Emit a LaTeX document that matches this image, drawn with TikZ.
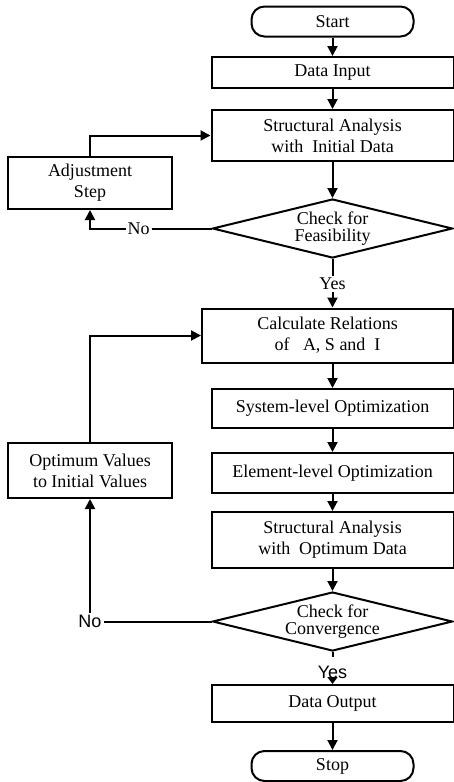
\documentclass[tikz,border=0pt]{standalone}
\usepackage{fontspec}
\setmainfont{Liberation Serif}
\newfontfamily\labelsans{Liberation Sans}
\usetikzlibrary{shapes.geometric,arrows.meta}

\tikzset{
    box/.style={draw, line width=1pt, align=center, inner sep=1pt,
        minimum width=121pt, font=\fontsize{9}{10.5}\selectfont},
    term/.style={box, rounded corners=6.5pt, minimum width=81pt, minimum height=15pt},
    test/.style={draw, diamond, aspect=4, line width=1pt, inner sep=0pt,
        minimum width=120pt, minimum height=29.5pt, align=center,
        font=\fontsize{9}{8.5}\selectfont},
    answer/.style={inner sep=1pt, font=\fontsize{9}{10}\selectfont},
    flow/.style={line width=1pt, -{Triangle[length=5pt,width=5pt]}},
    link/.style={line width=1pt}
}

\begin{document}
\begin{tikzpicture}[x=0.5pt, y=-0.5pt]
        \useasboundingbox (0, 0) rectangle (454, 782);

        \node[term] (start) at (332.5, 21.5) {Start};
        \node[box, minimum height=15.5pt] (datain) at (332.5, 72.5) {Data Input};
        \node[box, minimum height=25.5pt] (sainit) at (332.5, 135.5) {Structural Analysis\\with~ Initial Data};
        \node[box, minimum width=82pt, minimum height=26pt] (adjust) at (90, 183) {Adjustment\\Step};
        \node[test] (feas) at (332.5, 228.5) {Check for\\Feasibility};
        \node[answer] (yesfeas) at (332.5, 284) {Yes};

        \node[box, minimum width=125.5pt, minimum height=27pt] (calc) at (327.5, 335.5) {Calculate Relations\\of~~ A, S and~ I};
        \node[box, minimum height=19.5pt] (sysopt) at (332.5, 408.5) {System-level Optimization};
        \node[box, minimum height=20pt] (elemopt) at (332.5, 473) {Element-level Optimization};
        \node[box, minimum height=28pt] (saopt) at (332.5, 540) {Structural Analysis\\with~ Optimum Data};
        \node[box, minimum width=82pt, minimum height=27.5pt] (optval) at (90, 470.5) {Optimum Values\\to Initial Values};
        \node[test] (conv) at (332.5, 621.5) {Check for\\Convergence};
        \node[answer, font=\labelsans\fontsize{9}{10}\selectfont] (noconv) at (90, 621.5) {No};
        \node[answer, inner sep=0pt, font=\labelsans\fontsize{9}{10}\selectfont] (yesconv) at (332.5, 672) {Yes};

        \node[box, minimum height=18.5pt] (dataout) at (332.5, 703.5) {Data Output};
        \node[term] (stop) at (332.5, 766) {Stop};

        \draw[flow] (start) -- (datain);
        \draw[flow] (datain) -- (sainit);
        \draw[flow] (sainit) -- (feas);
        \draw[flow] (feas.west) -| node[answer, pos=0.3, fill=white] {No} (adjust.south);
        \draw[flow] (adjust.north) |- (sainit.west);
        \draw[link] (feas) -- (yesfeas);
        \draw[flow] (yesfeas) -- (yesfeas |- calc.north);

        \draw[flow] (calc.south -| sysopt) -- (sysopt);
        \draw[flow] (sysopt) -- (elemopt);
        \draw[flow] (elemopt) -- (saopt);
        \draw[flow] (saopt) -- (conv);
        \draw[link] (conv.west) -- (noconv);
        \draw[flow] (noconv) -- (optval);
        \draw[flow] (optval.north) |- (calc.west);
        \draw[link, shorten >=4pt] (conv) -- (yesconv);
        \draw[line width=1pt, -{Triangle[length=3.5pt,width=5pt]}] (yesconv) -- (dataout);
        \draw[flow] (dataout) -- (stop);
    \end{tikzpicture}
\end{document}
